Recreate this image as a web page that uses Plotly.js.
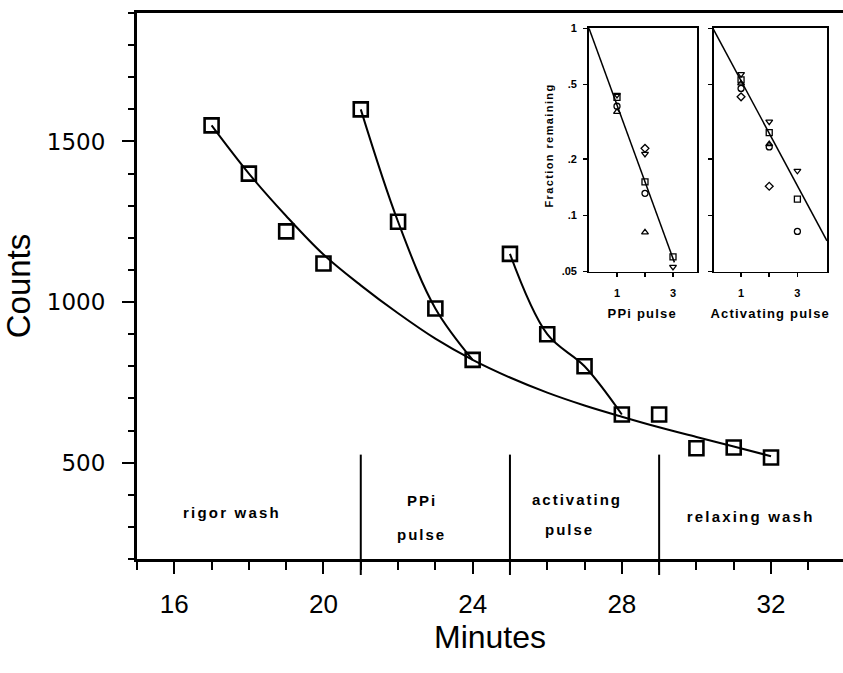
<!DOCTYPE html>
<html>
<head>
<meta charset="utf-8">
<script src="https://cdn.plot.ly/plotly-3.0.1.min.js"></script>
<style>
  html, body { margin: 0; padding: 0; background: #fff; }
  #chart { width: 843px; height: 673px; }
</style>
</head>
<body>
<div id="chart"></div>
<script>
// ---- main panel data ----
const minutes = [17, 18, 19, 20, 21, 22, 23, 24, 25, 26, 27, 28, 29, 30, 31, 32];
const counts  = [1550, 1400, 1220, 1120, 1600, 1250, 980, 820, 1150, 900, 800, 650, 650, 545, 547, 516];

// fitted curves
const rigorFitT = [17, 18, 19, 20, 21, 22, 23, 24, 25, 26, 27, 28, 29, 30, 31, 32];
const rigorFitV = [1550, 1400, 1268, 1148, 1052, 965, 886, 820, 765, 718, 678, 643, 610, 580, 550, 520];
const ppiFitT = [21, 22, 23, 24];
const ppiFitV = [1600, 1250, 980, 820];
const actFitT = [25, 26, 27, 28];
const actFitV = [1150, 900, 800, 650];

// phase boundaries and labels
const phaseBoundaries = [21, 25, 29];
const phaseLineTop = 525;
const phaseLabels = ["rigor wash", "PPi", "pulse", "activating", "pulse", "relaxing wash"];
const phaseLabelT = [17.55, 22.65, 22.62, 26.8, 26.6, 31.45];
const phaseLabelV = [344, 382, 276, 385, 291, 332];

// ---- inset data: fraction remaining vs pulse number ----
const pulseTicks = [1, 2, 3];
const fracTicks = [0.05, 0.1, 0.2, 0.5, 1];
const fracTickText = [".05", ".1", ".2", ".5", "1"];

const ppiTriDownX = [1, 2, 3],  ppiTriDown = [0.44, 0.213, 0.053];
const ppiSquareX  = [1, 2, 3],  ppiSquare  = [0.427, 0.151, 0.060];
const ppiCircleX  = [1, 2],     ppiCircle  = [0.383, 0.131];
const ppiTriUpX   = [1, 2],     ppiTriUp   = [0.357, 0.081];
const ppiDiamondX = [2],        ppiDiamond = [0.228];
const ppiFitX = [0, 3.05], ppiFitY = [1, 0.056];

const actTriDownX = [1, 2, 3],  actTriDown = [0.569, 0.317, 0.173];
const actSquareX  = [1, 2, 3],  actSquare  = [0.53, 0.277, 0.122];
const actTriUpX   = [1, 2],     actTriUp   = [0.507, 0.24];
const actCircleX  = [1, 2, 3],  actCircle  = [0.477, 0.232, 0.082];
const actDiamondX = [1, 2],     actDiamond = [0.43, 0.143];
const actFitX = [0, 4.05], actFitY = [1, 0.073];

const K = '#000';
const yRange = [200, 1900];

function lineTrace(x, y, xa, ya, w, shape) {
  return {x: x, y: y, xaxis: xa, yaxis: ya, type: 'scatter', mode: 'lines',
          line: {color: K, width: w, shape: shape || 'linear', smoothing: 1},
          hoverinfo: 'skip', showlegend: false};
}
function markTrace(x, y, xa, ya, sym, size, lw) {
  return {x: x, y: y, xaxis: xa, yaxis: ya, type: 'scatter', mode: 'markers',
          marker: {symbol: sym, size: size, color: K, line: {color: K, width: lw}},
          cliponaxis: false, hoverinfo: 'skip', showlegend: false};
}

const traces = [
  lineTrace(rigorFitT, rigorFitV, 'x', 'y', 2, 'spline'),
  lineTrace(ppiFitT, ppiFitV, 'x', 'y', 2, 'spline'),
  lineTrace(actFitT, actFitV, 'x', 'y', 2, 'spline'),
  markTrace(minutes, counts, 'x', 'y', 'square-open', 14, 2.6),

  lineTrace(ppiFitX, ppiFitY, 'x2', 'y2', 1.5),
  markTrace(ppiTriDownX, ppiTriDown, 'x2', 'y2', 'triangle-down-open', 6, 1.3),
  markTrace(ppiSquareX, ppiSquare, 'x2', 'y2', 'square-open', 6, 1.3),
  markTrace(ppiCircleX, ppiCircle, 'x2', 'y2', 'circle-open', 6, 1.3),
  markTrace(ppiTriUpX, ppiTriUp, 'x2', 'y2', 'triangle-up-open', 6, 1.3),
  markTrace(ppiDiamondX, ppiDiamond, 'x2', 'y2', 'diamond-open', 6, 1.3),

  lineTrace(actFitX, actFitY, 'x3', 'y3', 1.5),
  markTrace(actTriDownX, actTriDown, 'x3', 'y3', 'triangle-down-open', 6, 1.3),
  markTrace(actSquareX, actSquare, 'x3', 'y3', 'square-open', 6, 1.3),
  markTrace(actTriUpX, actTriUp, 'x3', 'y3', 'triangle-up-open', 6, 1.3),
  markTrace(actCircleX, actCircle, 'x3', 'y3', 'circle-open', 6, 1.3),
  markTrace(actDiamondX, actDiamond, 'x3', 'y3', 'diamond-open', 6, 1.3)
];

const plotH = 546;
const lineTopPaper = (phaseLineTop - yRange[0]) / (yRange[1] - yRange[0]);
const lineBottomPaper = -16 / plotH;

const shapes = phaseBoundaries.map(t => ({
  type: 'line', xref: 'x', yref: 'paper', x0: t, x1: t,
  y0: lineBottomPaper, y1: lineTopPaper, line: {color: K, width: 2}
}));

const labelFont = {family: 'Liberation Sans, Arial, sans-serif', size: 15, color: K, weight: 'bold'};
const annotations = phaseLabels.map((s, i) => ({
  text: s, x: phaseLabelT[i], y: phaseLabelV[i], xref: 'x', yref: 'y',
  showarrow: false, xanchor: 'center', yanchor: 'middle', font: labelFont
}));

const insetTitleFont = {family: 'Liberation Sans, Arial, sans-serif', size: 13, color: K, weight: 'bold'};
annotations.push({text: 'PPi pulse', x: 0.7167, y: 0.4505, xref: 'paper', yref: 'paper',
  showarrow: false, xanchor: 'center', yanchor: 'middle', font: insetTitleFont});
annotations.push({text: 'Activating pulse', x: 0.8966, y: 0.4505, xref: 'paper', yref: 'paper',
  showarrow: false, xanchor: 'center', yanchor: 'middle', font: insetTitleFont});
annotations.push({text: 'Fraction remaining', x: 0.5836, y: 0.7564, xref: 'paper', yref: 'paper',
  showarrow: false, xanchor: 'center', yanchor: 'middle', textangle: -90,
  font: {family: 'Liberation Sans, Arial, sans-serif', size: 11, color: K, weight: 'bold'}});

const insetTickFont = {family: 'Liberation Sans, Arial, sans-serif', size: 11, color: K, weight: 'bold'};

function insetX(domain, range, labels) {
  return {domain: domain, range: range, showline: true, linecolor: K, linewidth: 1.8, mirror: true,
          ticks: 'outside', ticklen: 4, tickwidth: 1.5, tickcolor: K,
          tickvals: pulseTicks, ticktext: labels ? ['1', '', '3'] : ['', '', ''],
          tickfont: insetTickFont, ticklabelstandoff: 6, showgrid: false, zeroline: false,
          fixedrange: true, automargin: false};
}
function insetY(domain, labels, anchor) {
  return {domain: domain, type: 'log', range: [Math.log10(fracTicks[0]), 0], anchor: anchor,
          showline: true, linecolor: K, linewidth: 1.8, mirror: true,
          ticks: 'outside', ticklen: 4, tickwidth: 1.5, tickcolor: K,
          tickvals: fracTicks, ticktext: labels ? fracTickText : fracTicks.map(() => ''),
          tickfont: insetTickFont, ticklabelstandoff: 4, showgrid: false, zeroline: false,
          fixedrange: true, automargin: false};
}

const layout = {
  width: 843, height: 673,
  margin: {l: 137, r: 0, t: 13, b: 114, pad: 0},
  paper_bgcolor: '#fff', plot_bgcolor: 'rgba(0,0,0,0)',
  showlegend: false,
  xaxis: {
    range: [15, 33.93], showline: true, linecolor: K, linewidth: 3, mirror: true,
    tick0: 16, dtick: 4, ticks: 'outside', ticklen: 12, tickwidth: 2, tickcolor: K,
    minor: {tick0: 15, dtick: 1, ticks: 'outside', ticklen: 8, tickwidth: 2, tickcolor: K, showgrid: false},
    tickfont: {family: 'Liberation Sans, Arial, sans-serif', size: 26, color: K},
    ticklabelstandoff: 8, automargin: false,
    showgrid: false, zeroline: false, fixedrange: true,
    title: {text: 'Minutes', font: {family: 'Liberation Sans, Arial, sans-serif', size: 32, color: K}, standoff: 2}
  },
  yaxis: {
    range: yRange, showline: true, linecolor: K, linewidth: 3, mirror: false,
    tick0: 0, dtick: 500, ticks: 'outside', ticklen: 12, tickwidth: 2, tickcolor: K,
    minor: {tick0: 0, dtick: 100, ticks: 'outside', ticklen: 6, tickwidth: 2, tickcolor: K, showgrid: false},
    tickfont: {family: 'DejaVu Sans, sans-serif', size: 23, color: K},
    ticklabelstandoff: 12, automargin: false,
    showgrid: false, zeroline: false, fixedrange: true,
    title: {text: 'Counts', font: {family: 'Liberation Sans, Arial, sans-serif', size: 33, color: K}, standoff: 14}
  },
  xaxis2: Object.assign(insetX([0.6402, 0.7932], [0, 3.857], true), {anchor: 'y2'}),
  yaxis2: insetY([0.5264, 0.972], true, 'x2'),
  xaxis3: Object.assign(insetX([0.8173, 0.9773], [0.04, 4.05], true), {anchor: 'y3'}),
  yaxis3: insetY([0.5264, 0.972], false, 'x3'),
  shapes: shapes,
  annotations: annotations
};

Plotly.newPlot('chart', traces, layout, {displayModeBar: false, staticPlot: true}).then(() => {
  const spacing = {0: 2.2, 1: 2, 2: 2, 3: 2, 4: 2, 5: 2.2, 6: 1.2, 7: 1.2, 8: 1.4};
  document.querySelectorAll('g.annotation').forEach(g => {
    const i = g.getAttribute('data-index');
    const t = g.querySelector('text');
    if (t && spacing[i] !== undefined) t.style.letterSpacing = spacing[i] + 'px';
  });
});
</script>
</body>
</html>
